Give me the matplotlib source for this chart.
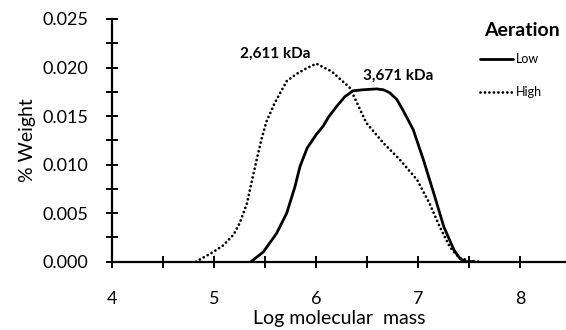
import matplotlib.pyplot as plt
from matplotlib.ticker import MultipleLocator

plt.rcParams['font.family'] = ['Lato', 'DejaVu Sans']

# Low aeration (solid)
low_x = [5.36, 5.48, 5.61, 5.71, 5.79, 5.84, 5.91, 6.00, 6.07, 6.12, 6.20, 6.28, 6.36,
         6.45, 6.59, 6.66, 6.72, 6.79, 6.85, 6.95, 7.05, 7.15, 7.25, 7.35, 7.41, 7.47, 7.55]
low_y = [0.0000, 0.0010, 0.0029, 0.0050, 0.0077, 0.0098, 0.0117, 0.0131, 0.0140, 0.0149,
         0.0160, 0.0170, 0.0176, 0.0177, 0.0178, 0.0177, 0.0174, 0.0167, 0.0156, 0.0136,
         0.0105, 0.0071, 0.0036, 0.0012, 0.0003, 0.0000, 0.0000]

# High aeration (dotted)
high_x = [4.82, 4.99, 5.09, 5.19, 5.25, 5.32, 5.37, 5.415, 5.46, 5.51, 5.59, 5.71, 5.80,
          5.90, 6.00, 6.15, 6.33, 6.49, 6.66, 6.82, 6.99, 7.11, 7.21, 7.31, 7.40, 7.50, 7.60]
high_y = [0.0000, 0.0010, 0.0017, 0.0028, 0.0040, 0.0060, 0.0084, 0.0105, 0.0125, 0.0144,
          0.0163, 0.0186, 0.0193, 0.0199, 0.0204, 0.0196, 0.0179, 0.0143, 0.0122, 0.0105,
          0.0084, 0.0060, 0.0036, 0.0015, 0.0004, 0.0001, 0.0000]

peak_labels = ["2,611 kDa", "3,671 kDa"]
peak_pos = [(5.6, 0.0214), (6.80, 0.0191)]

fig = plt.figure(figsize=(5.66, 3.30), dpi=100)
ax = fig.add_axes([0.1984, 0.207, 0.8016, 0.7355])

ax.plot(low_x, low_y, color='black', lw=2.0, label='Low', solid_capstyle='round',
        solid_joinstyle='round')
ax.plot(high_x, high_y, color='black', lw=2.0, linestyle=(0, (0.01, 1.6)),
        dash_capstyle='round', label='High')

for txt, (px, py) in zip(peak_labels, peak_pos):
    ax.text(px, py, txt, ha='center', va='center', fontsize=11, fontweight='bold')

ax.set_xlim(4, 8.448)
ax.set_ylim(0, 0.025)
ax.xaxis.set_major_locator(MultipleLocator(1))
ax.xaxis.set_minor_locator(MultipleLocator(0.5))
ax.yaxis.set_major_locator(MultipleLocator(0.005))
ax.yaxis.set_minor_locator(MultipleLocator(0.0025))
ax.yaxis.set_major_formatter(plt.FormatStrFormatter('%.3f'))

for s in ['top', 'right']:
    ax.spines[s].set_visible(False)
for s in ['left', 'bottom']:
    ax.spines[s].set_linewidth(1.6)

ax.tick_params(axis='both', which='both', direction='inout', length=8, width=1.4)
ax.tick_params(axis='x', which='major', pad=17, labelsize=13)
ax.tick_params(axis='y', which='major', pad=13, labelsize=13)

ax.set_xlabel("Log molecular  mass", fontsize=14, labelpad=2)
ax.set_ylabel("% Weight", fontsize=14, labelpad=5)

# legend title drawn separately so the rows can sit where they do in the original
fig.text(560 / 566, 1 - 31 / 330, "Aeration", ha='right', va='center',
         fontsize=14, fontweight='bold')
ax.legend(loc='upper left', bbox_to_anchor=(480 / 566, 1 - 53 / 330),
          bbox_transform=fig.transFigure, frameon=False, fontsize=9,
          handlelength=2.6, handletextpad=0.3, labelspacing=1.7,
          borderpad=0, borderaxespad=0)

fig.savefig("out.png", dpi=100)
